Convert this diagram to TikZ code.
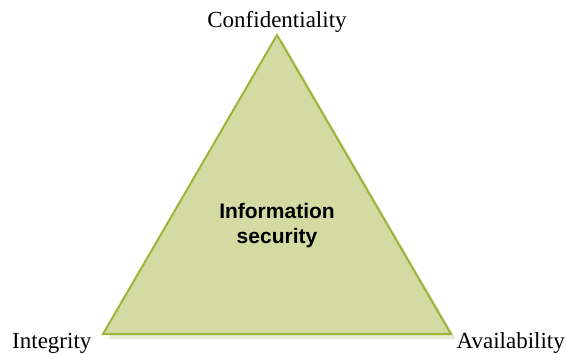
\documentclass[tikz,border=0pt]{standalone}
\usepackage{fontspec}
\setmainfont{Liberation Serif}
\newfontfamily\labsans{Liberation Sans}
\definecolor{trifill}{RGB}{211,219,163}
\definecolor{triedge}{RGB}{156,180,58}
\definecolor{trishadow}{RGB}{232,236,212}
\begin{document}
\begin{tikzpicture}[x=1pt,y=-1pt,
  corner/.style={font=\fontsize{23}{26}\selectfont, inner sep=0pt},
  centre/.style={font=\labsans\bfseries\fontsize{21}{25}\selectfont, align=center, inner sep=0pt}]
\useasboundingbox (0,0) rectangle (566,354);
\coordinate (top) at (277,35);
\coordinate (bl) at (103,334);
\coordinate (br) at (451,334);
\fill[trishadow] ([shift={(5,5)}]top) -- ([shift={(5,5)}]bl) -- ([shift={(5,5)}]br) -- cycle;
\draw[fill=trifill, draw=triedge, line width=2pt, line join=miter] (top) -- (bl) -- (br) -- cycle;
\node[corner, anchor=base] (conf) at (277,27) {Confidentiality};
\node[corner, anchor=base west] (integ) at (12,348) {Integrity};
\node[corner, anchor=base east] (avail) at (565,348) {Availability};
\node[centre, anchor=base] (info) at (277,243) {Information\\security};
\end{tikzpicture}
\end{document}
